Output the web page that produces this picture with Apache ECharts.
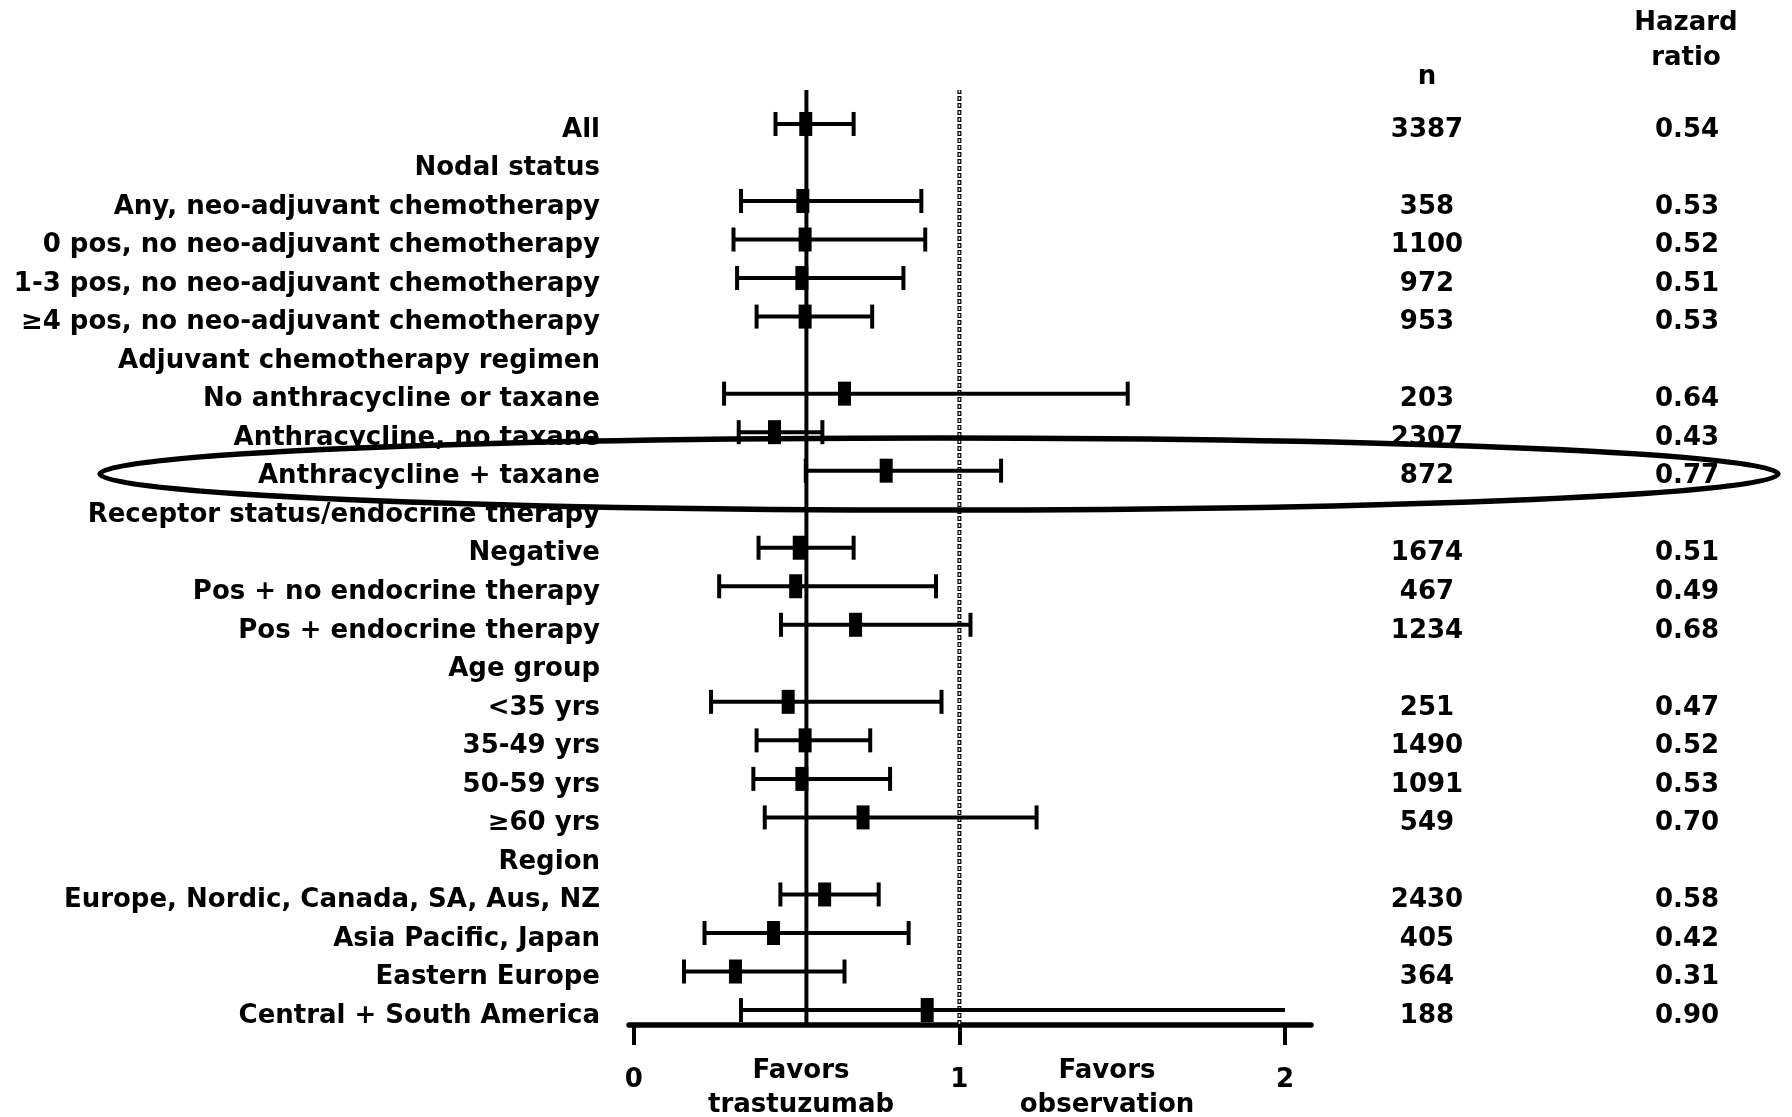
<!DOCTYPE html>
<html><head><meta charset="utf-8">
<script src="https://cdn.jsdelivr.net/npm/echarts@6/dist/echarts.min.js"></script>
<style>html,body{margin:0;padding:0;background:#fff}#c{width:1792px;height:1117px}</style>
</head><body><div id="c"></div>
<script>
const categories = [
  'All', 'Nodal status', 'Any, neo-adjuvant chemotherapy', '0 pos, no neo-adjuvant chemotherapy',
  '1-3 pos, no neo-adjuvant chemotherapy', '≥4 pos, no neo-adjuvant chemotherapy',
  'Adjuvant chemotherapy regimen', 'No anthracycline or taxane', 'Anthracycline, no taxane',
  'Anthracycline + taxane', 'Receptor status/endocrine therapy', 'Negative',
  'Pos + no endocrine therapy', 'Pos + endocrine therapy', 'Age group', '<35 yrs', '35-49 yrs',
  '50-59 yrs', '≥60 yrs', 'Region', 'Europe, Nordic, Canada, SA, Aus, NZ', 'Asia Pacific, Japan',
  'Eastern Europe', 'Central + South America'
];
const nValues = ['3387', '', '358', '1100', '972', '953', '', '203', '2307', '872', '', '1674', '467', '1234', '', '251', '1490', '1091', '549', '', '2430', '405', '364', '188'];
const hrLabels = ['0.54', '', '0.53', '0.52', '0.51', '0.53', '', '0.64', '0.43', '0.77', '', '0.51', '0.49', '0.68', '', '0.47', '0.52', '0.53', '0.70', '', '0.58', '0.42', '0.31', '0.90'];
const estimates = [0.528, null, 0.519, 0.526, 0.516, 0.526, null, 0.647, 0.432, 0.775, null, 0.508, 0.497, 0.681, null, 0.474, 0.526, 0.516, 0.704, null, 0.586, 0.429, 0.312, 0.901];
const lowerCI = [0.435, null, 0.329, 0.306, 0.317, 0.377, null, 0.277, 0.322, 0.528, null, 0.383, 0.262, 0.452, null, 0.237, 0.377, 0.367, 0.402, null, 0.450, 0.217, 0.154, 0.329];
const upperCI = [0.675, null, 0.883, 0.895, 0.828, 0.732, null, 1.517, 0.579, 1.128, null, 0.675, 0.928, 1.034, null, 0.945, 0.726, 0.787, 1.237, null, 0.752, 0.844, 0.647, 2.0];
const overallLine = 0.53;
const nullLine = 1;
const xTicks = [0, 1, 2];

const FONT = '"DejaVu Sans"';
const XMIN = -0.015, XMAX = 2.08;
const chart = echarts.init(document.getElementById('c'), null, {renderer: 'canvas'});

const rows = [];
categories.forEach((c, i) => {
  if (estimates[i] != null) rows.push([lowerCI[i], upperCI[i], estimates[i], i]);
});

function renderItem(params, api) {
  const lo = api.value(0), hi = api.value(1), pt = api.value(2), row = api.value(3);
  const pL = api.coord([lo, row]), pH = api.coord([hi, row]), pP = api.coord([pt, row]);
  const y = pL[1], capH = 12, lw = 4;
  const st = {stroke: '#000', lineWidth: lw};
  const children = [
    {type: 'line', shape: {x1: pL[0], y1: y, x2: pH[0], y2: y}, style: st},
    {type: 'line', shape: {x1: pL[0], y1: y - capH, x2: pL[0], y2: y + capH}, style: st}
  ];
  if (hi < 2) children.push({type: 'line', shape: {x1: pH[0], y1: y - capH, x2: pH[0], y2: y + capH}, style: st});
  children.push({type: 'rect', shape: {x: pP[0] - 6.5, y: y - 12, width: 13, height: 24}, style: {fill: '#000'}});
  return {type: 'group', children};
}

const lblBase = {fontFamily: FONT, fontWeight: 'bold', fontSize: 26, color: '#000'};
const T = (text, x, y) => ({type: 'text', x, y, z: 50, style: {text, fill: '#000', fontFamily: 'DejaVu Sans', fontWeight: 'bold', fontSize: 26, align: 'center', verticalAlign: 'middle'}});
const VA = {verticalAlign: 'top', lineHeight: 12};

const option = {
  backgroundColor: '#fff',
  animation: false,
  grid: [
    {left: 629, right: 481, top: 104.7, bottom: 87.7},
    {left: 629, right: 481, top: 90, bottom: 92}
  ],
  xAxis: [
    {gridIndex: 0, type: 'value', min: XMIN, max: XMAX, show: false},
    {gridIndex: 1, type: 'value', min: XMIN, max: XMAX, splitLine: {show: false},
     axisLine: {show: true, lineStyle: {color: '#000', width: 5.5}},
     axisTick: {show: true, customValues: xTicks, length: 20, lineStyle: {width: 4, color: '#000'}},
     axisLabel: Object.assign({customValues: xTicks, margin: 42}, lblBase)}
  ],
  yAxis: [
    {gridIndex: 0, type: 'category', inverse: true, data: categories,
     axisLine: {show: false}, axisTick: {show: false}, splitLine: {show: false},
     axisLabel: Object.assign({margin: 29}, VA, lblBase)},
    {gridIndex: 0, type: 'category', inverse: true, position: 'right', data: categories,
     axisLine: {show: false}, axisTick: {show: false}, splitLine: {show: false},
     axisLabel: Object.assign({margin: 116, align: 'center', formatter: (v, i) => nValues[i]}, VA, lblBase)},
    {gridIndex: 0, type: 'category', inverse: true, position: 'right', data: categories,
     axisLine: {show: false}, axisTick: {show: false}, splitLine: {show: false},
     axisLabel: Object.assign({margin: 376, align: 'center', formatter: (v, i) => hrLabels[i]}, VA, lblBase)},
    {gridIndex: 1, type: 'value', min: 0, max: 1, show: false}
  ],
  series: [
    {type: 'line', xAxisIndex: 1, yAxisIndex: 3, data: [[overallLine, 0], [overallLine, 1]], symbol: 'none',
     lineStyle: {color: '#000', width: 4}, z: 1},
    {type: 'line', xAxisIndex: 1, yAxisIndex: 3, data: [[nullLine, 0], [nullLine, 1]], symbol: 'none',
     lineStyle: {color: '#000', width: 4, type: [5, 2]}, z: 1},
    {type: 'line', xAxisIndex: 1, yAxisIndex: 3, data: [[nullLine, 0], [nullLine, 1]], symbol: 'none',
     lineStyle: {color: '#fff', width: 1.6, type: [2.4, 4.6], dashOffset: -1.3}, z: 2},
    {type: 'custom', xAxisIndex: 0, yAxisIndex: 0, data: rows, renderItem, encode: {x: [0, 1, 2], y: 3}, z: 5}
  ],
  graphic: [
    T('n', 1427, 77), T('Hazard', 1686, 23), T('ratio', 1686, 58),
    T('Favors', 801, 1071), T('trastuzumab', 801, 1105),
    T('Favors', 1107, 1071), T('observation', 1107, 1105),
    {type: 'ellipse', z: 100, shape: {cx: 939, cy: 474, rx: 839, ry: 36},
     style: {fill: 'none', stroke: '#000', lineWidth: 5.5}}
  ]
};
chart.setOption(option);
</script>
</body></html>
